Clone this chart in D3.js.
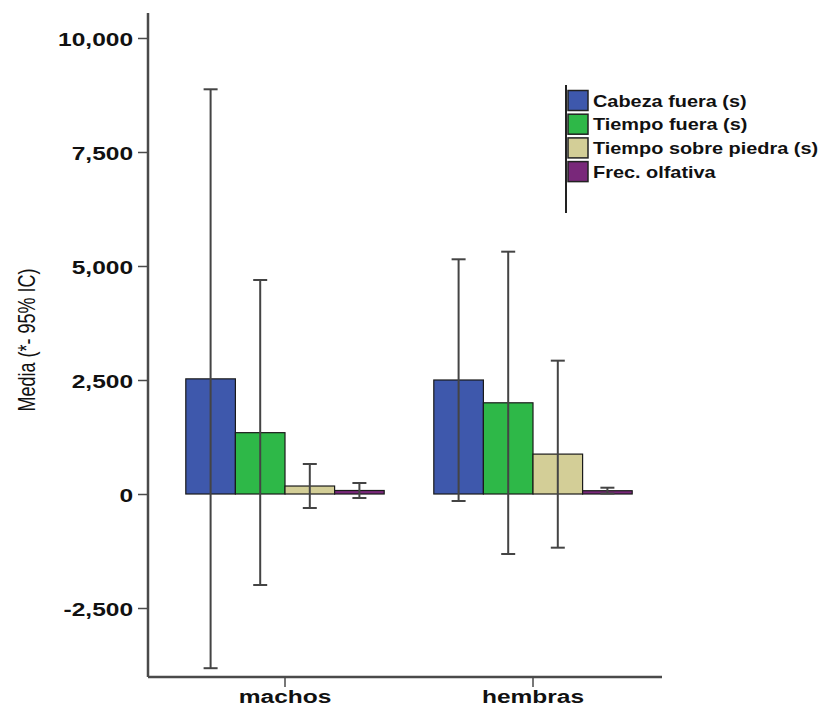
<!DOCTYPE html>
<html>
<head>
<meta charset="utf-8">
<script src="https://cdn.jsdelivr.net/npm/d3@7"></script>
<style>
  html, body { margin: 0; padding: 0; background: #fff; }
  svg { display: block; font-family: "Liberation Sans", Arial, sans-serif; }
</style>
</head>
<body>
<div id="chart"></div>
<script>
// categories and series
const groups = ['machos', 'hembras'];
const series = ['Cabeza fuera (s)', 'Tiempo fuera (s)', 'Tiempo sobre piedra (s)', 'Frec. olfativa'];
const colors = ['#3e58ac', '#2eb848', '#d3ce97', '#79287a'];

// means and 95% CI bounds, per group, in series order
const means = {
  machos:  [2525, 1345, 175, 77],
  hembras: [2500, 2000, 875, 72]
};
const lower = {
  machos:  [-3820, -1996, -307, -88],
  hembras: [-153, -1316, -1177, 10]
};
const upper = {
  machos:  [8875, 4693, 658, 241],
  hembras: [5147, 5314, 2924, 138]
};

const yTicks = [-2500, 0, 2500, 5000, 7500, 10000];

const width = 821, height = 707;
const axisX = 148, axisTop = 13, axisBottom = 677, axisRight = 662;
const stretch = 1.29; // picture is stretched horizontally

const svg = d3.select('#chart').append('svg')
  .attr('width', width)
  .attr('height', height);

const y = d3.scaleLinear()
  .domain([-4013, 10548])
  .range([axisBottom, axisTop]);

const x0 = d3.scaleBand()
  .domain(groups)
  .range([161, 657])
  .paddingInner(0.2)
  .paddingOuter(0.1);

const x1 = d3.scaleBand()
  .domain(series)
  .range([0, x0.bandwidth()]);

// plain hyphen for negatives, like the original
const fmt = d3.formatLocale({
  decimal: '.', thousands: ',', grouping: [3], currency: ['', ''], minus: '-'
}).format(',');

// y axis
const yAxis = svg.append('g')
  .attr('transform', `translate(${axisX},0)`)
  .call(d3.axisLeft(y).tickValues(yTicks).tickSize(10).tickPadding(5).tickFormat(fmt));
yAxis.select('.domain').remove();
yAxis.selectAll('.tick line').attr('stroke', '#4a4a4a').attr('stroke-width', 1.5);
yAxis.selectAll('.tick text')
  .attr('fill', '#111')
  .style('font-size', '19px')
  .style('font-weight', 'bold')
  .attr('x', -15 / stretch)
  .attr('dy', '0.38em')
  .attr('transform', `scale(${stretch},1)`);

svg.append('line')
  .attr('x1', axisX).attr('x2', axisX)
  .attr('y1', axisTop).attr('y2', axisBottom)
  .attr('stroke', '#4a4a4a').attr('stroke-width', 2.5);

// x axis
svg.append('line')
  .attr('x1', axisX).attr('x2', axisRight)
  .attr('y1', axisBottom).attr('y2', axisBottom)
  .attr('stroke', '#4a4a4a').attr('stroke-width', 2.5);

const xTick = svg.selectAll('g.xtick')
  .data(groups)
  .enter()
  .append('g')
  .attr('class', 'xtick')
  .attr('transform', d => `translate(${x0(d) + x0.bandwidth() / 2},${axisBottom})`);

xTick.append('line')
  .attr('y1', 0).attr('y2', 10)
  .attr('stroke', '#4a4a4a').attr('stroke-width', 1.5);

xTick.append('text')
  .attr('y', 26)
  .attr('text-anchor', 'middle')
  .attr('transform', `scale(${stretch},1)`)
  .style('font-size', '19px')
  .style('font-weight', 'bold')
  .attr('fill', '#111')
  .text(d => d);

// y axis title
svg.append('text')
  .attr('transform', `translate(35,340) scale(${stretch},1) rotate(-90)`)
  .attr('text-anchor', 'middle')
  .style('font-size', '18px')
  .attr('fill', '#111')
  .text('Media (*- 95% IC)');

// bars
const groupG = svg.selectAll('g.group')
  .data(groups)
  .enter()
  .append('g')
  .attr('class', 'group')
  .attr('transform', d => `translate(${x0(d)},0)`);

groupG.selectAll('rect')
  .data(g => series.map((s, i) => ({ s, i, v: means[g][i] })))
  .enter()
  .append('rect')
  .attr('x', d => x1(d.s))
  .attr('width', x1.bandwidth())
  .attr('y', d => y(Math.max(0, d.v)))
  .attr('height', d => Math.abs(y(d.v) - y(0)))
  .attr('fill', d => colors[d.i])
  .attr('stroke', '#1a1a1a')
  .attr('stroke-width', 1.2);

// error bars
const capW = 14;
const err = groupG.selectAll('g.err')
  .data(g => series.map((s, i) => ({ s, lo: lower[g][i], hi: upper[g][i] })))
  .enter()
  .append('g')
  .attr('class', 'err')
  .attr('transform', d => `translate(${x1(d.s) + x1.bandwidth() / 2},0)`)
  .attr('stroke', '#444')
  .attr('stroke-width', 2);

err.append('line')
  .attr('y1', d => y(d.lo))
  .attr('y2', d => y(d.hi));
err.append('line')
  .attr('x1', -capW / 2).attr('x2', capW / 2)
  .attr('y1', d => y(d.hi)).attr('y2', d => y(d.hi));
err.append('line')
  .attr('x1', -capW / 2).attr('x2', capW / 2)
  .attr('y1', d => y(d.lo)).attr('y2', d => y(d.lo));

// legend
const legend = svg.append('g').attr('transform', 'translate(566,0)');
legend.append('line')
  .attr('x1', 0).attr('x2', 0)
  .attr('y1', 85).attr('y2', 213)
  .attr('stroke', '#222').attr('stroke-width', 2);

const item = legend.selectAll('g.item')
  .data(series)
  .enter()
  .append('g')
  .attr('class', 'item')
  .attr('transform', (d, i) => `translate(0,${100.5 + i * 23.7})`);

item.append('rect')
  .attr('x', 2).attr('y', -10)
  .attr('width', 20).attr('height', 20)
  .attr('fill', (d, i) => colors[i])
  .attr('stroke', '#222')
  .attr('stroke-width', 1.5);

item.append('text')
  .attr('x', 27 / 1.17)
  .attr('dy', '0.36em')
  .attr('transform', 'scale(1.17,1)')
  .style('font-size', '17px')
  .style('font-weight', 'bold')
  .attr('fill', '#111')
  .text(d => d);
</script>
</body>
</html>
